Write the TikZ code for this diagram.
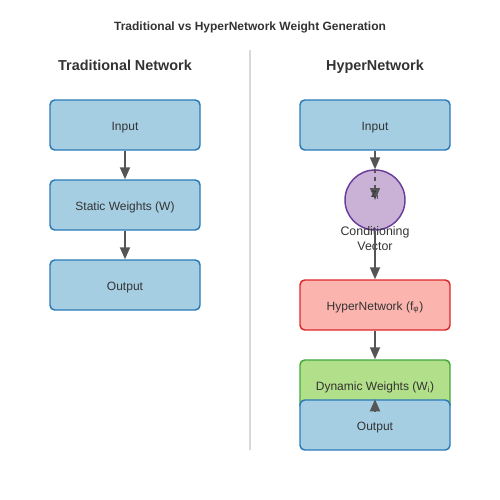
\documentclass[tikz,border=0pt]{standalone}
\usepackage{fontspec}
\setmainfont{Liberation Sans}
\usetikzlibrary{arrows.meta}
\definecolor{boxblue}{HTML}{A6CEE3}
\definecolor{lineblue}{HTML}{2A7AB8}
\definecolor{boxred}{HTML}{FBB4AE}
\definecolor{linered}{HTML}{E0282C}
\definecolor{boxgreen}{HTML}{B2DF8A}
\definecolor{linegreen}{HTML}{44A83A}
\definecolor{boxpurple}{HTML}{CAB2D6}
\definecolor{linepurple}{HTML}{6A3D9A}
\definecolor{arrowgray}{HTML}{555555}
\definecolor{textgray}{HTML}{333333}

\begin{document}
\begin{tikzpicture}[x=0.75pt, y=-0.75pt,
    every node/.style={text=textgray, font=\fontsize{9}{11}\selectfont},
    heading/.style={text height=7.5pt, text depth=0pt},
    block/.style={draw, line width=1.1pt, rounded corners=3.5pt,
        minimum width=112.5pt, minimum height=37.5pt, inner sep=0pt,
        text height=8pt, text depth=0pt},
    arr/.style={draw=arrowgray, line width=1.4pt,
        -{Triangle[length=9pt, width=7.5pt]}}]
    \useasboundingbox (0,0) rectangle (500,500);

    % Titles
    \node[heading, font=\bfseries\fontsize{9}{11}\selectfont] (title) at (250,25.5) {Traditional vs HyperNetwork Weight Generation};
    \node[heading, font=\bfseries\fontsize{10.8}{13}\selectfont] (tradtitle) at (125,65) {Traditional Network};
    \node[heading, font=\bfseries\fontsize{10.8}{13}\selectfont] (hypertitle) at (375,65) {HyperNetwork};

    % Divider
    \draw[black!15, line width=1.5pt] (250,50) -- (250,450);

    % Traditional network
    \node[block, fill=boxblue, draw=lineblue] (tin) at (125,125) {Input};
    \node[block, fill=boxblue, draw=lineblue] (tw) at (125,205) {Static Weights (W)};
    \node[block, fill=boxblue, draw=lineblue] (tout) at (125,285) {Output};

    \draw[arr] (tin) -- (tw);
    \draw[arr] (tw) -- (tout);

    % HyperNetwork
    \node[block, fill=boxblue, draw=lineblue] (hin) at (375,125) {Input};
    \node[circle, fill=boxpurple, draw=linepurple, line width=1.1pt,
        minimum size=45pt, inner sep=0pt] (cv) at (375,200) {};
    \node[align=center, font=\fontsize{9.3}{11.25}\selectfont] (cvlabel) at (375,239) {Conditioning\\Vector};
    \node[block, fill=boxred, draw=linered] (hnet) at (375,305) {HyperNetwork (f\textsubscript{φ})};
    \node[block, fill=boxgreen, draw=linegreen] (dw) at (375,385) {Dynamic Weights (W\textsubscript{i})};
    \node[block, fill=boxblue, draw=lineblue] (hout) at (375,425) {Output};

    \draw[arr] (hin) -- (cv);
    \draw[arr, dashed] (cv.north) -- (cv.center);
    \node (z) at (375,195) {z\textsubscript{i}};
    \draw[arr] (cv) -- (hnet);
    \draw[arr] (hnet) -- (dw);
    \draw[arr] (dw.south) -- (hout.north);

\end{tikzpicture}
\end{document}
